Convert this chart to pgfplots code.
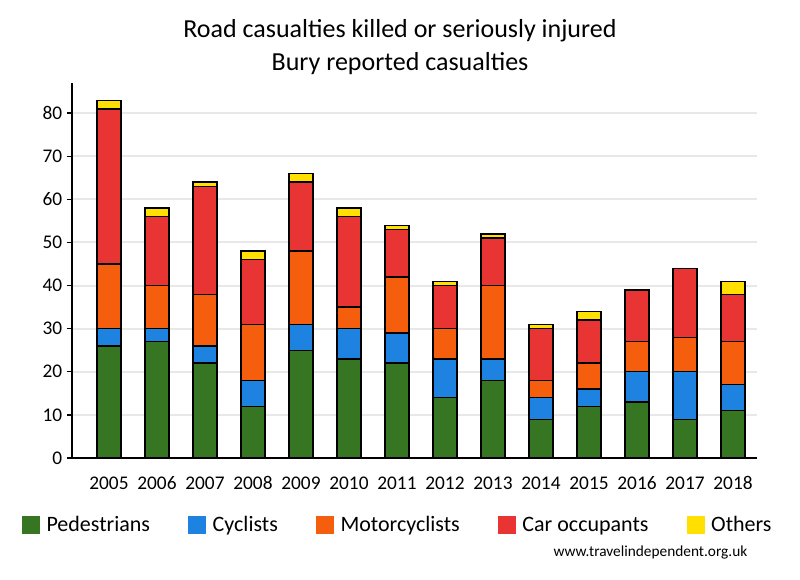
\documentclass[border=0pt]{standalone}
\usepackage{pgfplots}
\pgfplotsset{compat=1.18}
\usepackage{pgfplotstable}
\usepackage{fontspec}
\setmainfont{Carlito}
\definecolor{ped}{RGB}{54,117,33}
\definecolor{cyc}{RGB}{30,130,225}
\definecolor{mot}{RGB}{245,94,12}
\definecolor{car}{RGB}{233,52,52}
\definecolor{oth}{RGB}{255,224,0}
\definecolor{gridc}{RGB}{232,232,232}
\pgfplotstableread{
x ped cyc mot car oth
0 26 4 15 36 2
1 27 3 10 16 2
2 22 4 12 25 1
3 12 6 13 15 2
4 25 6 17 16 2
5 23 7 5 21 2
6 22 7 13 11 1
7 14 9 7 10 1
8 18 5 17 11 1
9 9 5 4 12 1
10 12 4 6 10 2
11 13 7 7 12 0
12 9 11 8 16 0
13 11 6 10 11 3
}\data
\begin{document}
\begin{tikzpicture}
\path[use as bounding box] (0,0) rectangle (600pt,435pt);
\node[font=\fontsize{19.5}{23}\selectfont] at (300pt,412pt) {Road casualties killed or seriously injured};
\node[font=\fontsize{19.5}{23}\selectfont] at (300pt,387.5pt) {Bury reported casualties};
\node[font=\fontsize{11.5}{13}\selectfont, anchor=east] at (564pt,20.25pt) {www.travelindependent.org.uk};
\begin{axis}[
  at={(54pt,91.5pt)}, anchor=south west,
  scale only axis, width=513.75pt, height=281.25pt,
  ybar stacked, bar width=18pt,
  xmin=-0.77, xmax=13.5, ymin=0, ymax=87,
  axis x line=bottom, axis y line=left,
  axis line style={line width=1.5pt, -},
  xtick={0,...,13},
  xticklabels={2005,2006,2007,2008,2009,2010,2011,2012,2013,2014,2015,2016,2017,2018},
  ytick={0,10,...,80},
  major x tick style={draw=none},
  major y tick style={line width=1pt, black},
  tick align=outside, major tick length=3.75pt,
  ymajorgrids, grid style={gridc, line width=1.5pt},
  tick label style={font=\fontsize{14.5}{17}\selectfont},
  xticklabel style={yshift=-6.5pt, text height=10pt, text depth=0pt},
  /pgf/number format/assume math mode=true,
  legend columns=5,
  legend style={at={(0.476,-0.184)}, anchor=center, draw=none, fill=none,
    font=\fontsize{16.5}{19}\selectfont,
    nodes={text height=0.75em, text depth=0.25em},
    /tikz/every even column/.append style={column sep=26.5pt}},
  legend image code/.code={\fill[#1,draw=none] (0pt,-4.5pt) rectangle (13.5pt,9pt); \path (16pt,0pt);},
  every axis plot/.append style={draw=black, line width=1pt},
]
\addplot[fill=ped] table[x=x,y=ped]{\data};
\addplot[fill=cyc] table[x=x,y=cyc]{\data};
\addplot[fill=mot] table[x=x,y=mot]{\data};
\addplot[fill=car] table[x=x,y=car]{\data};
\addplot[fill=oth] table[x=x,y=oth]{\data};
\legend{Pedestrians,Cyclists,Motorcyclists,Car occupants,Others}
\end{axis}
\end{tikzpicture}
\end{document}
